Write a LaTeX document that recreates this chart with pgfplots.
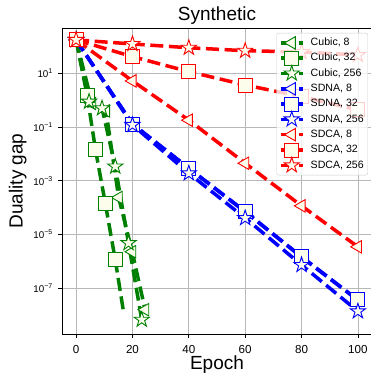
\documentclass[border=0pt]{standalone}
\usepackage{pgfplots}
\pgfplotsset{compat=1.18}
\usepackage{fontspec}
\setmainfont{Liberation Sans}
\definecolor{mfill}{RGB}{252,253,235}
\definecolor{mgreen}{RGB}{0,128,0}
\pgfdeclareplotmark{fstar}{%
  \pgfpathmoveto{\pgfpointpolar{90}{\pgfplotmarksize}}%
  \pgfpathlineto{\pgfpointpolar{126}{0.382\pgfplotmarksize}}%
  \pgfpathlineto{\pgfpointpolar{162}{\pgfplotmarksize}}%
  \pgfpathlineto{\pgfpointpolar{198}{0.382\pgfplotmarksize}}%
  \pgfpathlineto{\pgfpointpolar{234}{\pgfplotmarksize}}%
  \pgfpathlineto{\pgfpointpolar{270}{0.382\pgfplotmarksize}}%
  \pgfpathlineto{\pgfpointpolar{306}{\pgfplotmarksize}}%
  \pgfpathlineto{\pgfpointpolar{342}{0.382\pgfplotmarksize}}%
  \pgfpathlineto{\pgfpointpolar{18}{\pgfplotmarksize}}%
  \pgfpathlineto{\pgfpointpolar{54}{0.382\pgfplotmarksize}}%
  \pgfpathclose
  \pgfusepathqfillstroke
}
\newcommand{\legimg}[3]{% mark, size, rotation
  \path[draw=none, fill=none] (0pt,-6pt) rectangle (22pt,6pt);
  \draw[overlay, sharp corners, fill=none] (0pt,0pt) -- (22pt,0pt);
  \begin{scope}[overlay, sharp corners, shift={(11pt,0pt)}, rotate=#3, solid, line width=0.9pt, fill=mfill, fill opacity=1]
    \pgfsetplotmarksize{#2}\pgfuseplotmark{#1}
  \end{scope}}
\pgfplotsset{
  ser/.style={line width=3.5pt, dash pattern=on 13pt off 5.6pt},
  tri/.style={mark=triangle*, mark size=7.2pt, mark options={solid, fill=mfill, fill opacity=1, line width=0.9pt, rotate=90},
    legend image code/.code={\legimg{triangle*}{7.2pt}{90}}},
  sq/.style={mark=square*, mark size=7pt, mark options={solid, fill=mfill, fill opacity=1, line width=0.9pt},
    legend image code/.code={\legimg{square*}{7pt}{0}}},
  st/.style={mark=fstar, mark size=8pt, mark options={solid, fill=mfill, fill opacity=1, line width=0.9pt},
    legend image code/.code={\legimg{fstar}{8pt}{0}}},
}
\begin{document}
\begin{tikzpicture}
\begin{axis}[
  scale only axis, width=310pt, height=306pt,
  xmin=-5, xmax=105, ymode=log, ymin=2e-9, ymax=483,
  xtick={0,20,40,60,80,100},
  ytick={1e1,1e-1,1e-3,1e-5,1e-7},
  yticklabels={10\raisebox{4pt}{\fontsize{7}{8}\selectfont 1},
               10\raisebox{4pt}{\fontsize{7}{8}\selectfont −1},
               10\raisebox{4pt}{\fontsize{7}{8}\selectfont −3},
               10\raisebox{4pt}{\fontsize{7}{8}\selectfont −5},
               10\raisebox{4pt}{\fontsize{7}{8}\selectfont −7}},
  yminorticks=false,
  grid=major, major grid style={color=black!28, line width=0.8pt},
  xtick pos=bottom, ytick pos=left,
  tick align=outside, major tick length=3.5pt,
  tick style={black, line width=0.8pt},
  axis line style={line width=0.8pt},
  /pgf/number format/assume math mode=true,
  xticklabel style={font=\fontsize{11.6}{13}\selectfont, anchor=base, yshift=-16pt},
  yticklabel style={font=\fontsize{9.8}{11}\selectfont, anchor=east, inner sep=0pt, xshift=-6pt},
  title={Synthetic},
  title style={at={(axis description cs:0.5,1)}, anchor=base, yshift=1.3pt, font=\fontsize{19}{22}\selectfont},
  xlabel={Epoch},
  xlabel style={at={(axis description cs:0.5,0)}, anchor=base, yshift=-35.3pt, font=\fontsize{19}{22}\selectfont},
  ylabel={Duality gap},
  ylabel style={at={(axis description cs:-0.1268,0.5)}, anchor=base, font=\fontsize{19}{22}\selectfont},
  legend style={at={(0.987,0.984)}, anchor=north east, font=\fontsize{10.6}{12}\selectfont,
    draw=black!20, rounded corners=2pt, fill=white, fill opacity=0.8, text opacity=1, draw opacity=1,
    inner xsep=4pt, inner ysep=3.8pt, column sep=8pt, row sep=3.3pt,
    nodes={inner xsep=0pt, inner ysep=0pt, text height=8pt, text depth=2.5pt}},
  legend cell align=left,
]
\coordinate (sw) at (axis description cs:0,0);
% Cubic
\addplot[color=mgreen, ser, tri] coordinates {(0,174) (5.7,0.75) (10.6,0.40) (15.1,2.4e-4) (19.9,2.3e-6) (24.5,1.6e-8)};
\addlegendentry{Cubic, 8}
\addplot[color=mgreen, ser, sq, mark indices={1,2,3,4,5}] coordinates {(0,174) (3.9,1.55) (6.9,0.0141) (10.4,1.38e-4) (13.9,1.15e-6) (16.9,1.2e-8)};
\addlegendentry{Cubic, 32}
\addplot[color=mgreen, ser, st] coordinates {(0,174) (4.6,0.88) (9.2,0.5) (13.9,3.4e-3) (18.6,4.8e-6) (23.3,6.8e-9)};
\addlegendentry{Cubic, 256}
% SDNA
\addplot[color=blue, ser, tri] coordinates {(0,174) (20,0.13) (40,2.9e-3) (60,7.0e-5) (80,1.45e-6) (100,3.6e-8)};
\addlegendentry{SDNA, 8}
\addplot[color=blue, ser, sq] coordinates {(0,174) (20,0.13) (40,2.95e-3) (60,7.2e-5) (80,1.5e-6) (100,3.7e-8)};
\addlegendentry{SDNA, 32}
\addplot[color=blue, ser, st] coordinates {(0,174) (20,0.12) (40,1.9e-3) (60,4.1e-5) (80,7.4e-7) (100,1.4e-8)};
\addlegendentry{SDNA, 256}
% SDCA
\addplot[color=red, ser, tri] coordinates {(0,174) (20,5.2) (40,0.18) (60,4.5e-3) (80,1.17e-4) (100,3.5e-6)};
\addlegendentry{SDCA, 8}
\addplot[color=red, ser, sq] coordinates {(0,174) (20,41.6) (40,11.5) (60,3.67) (80,1.35) (100,0.436)};
\addlegendentry{SDCA, 32}
\addplot[color=red, ser, st] coordinates {(0,174) (20,123) (40,89) (60,69) (80,62) (100,48)};
\addlegendentry{SDCA, 256}
\end{axis}
\pgfresetboundingbox
\path (sw) ++(-62pt,-40pt) rectangle ++(371pt,374pt);
\end{tikzpicture}
\end{document}
